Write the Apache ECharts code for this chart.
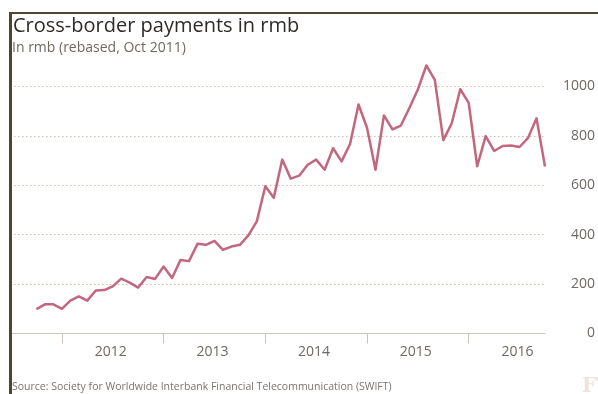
<!DOCTYPE html>
<html>
<head>
<meta charset="utf-8">
<script src="https://cdn.jsdelivr.net/npm/echarts@6/dist/echarts.min.js"></script>
<style>
  html, body { margin: 0; padding: 0; background: #fff; }
  #chart { width: 598px; height: 394px; }
</style>
</head>
<body>
<div id="chart"></div>
<script>
// Monthly cross-border rmb payments, index rebased to Oct 2011 = 100
const firstYear = 2011;
const firstMonth = 10; // October
const payments = [
  99, 118, 118, 100, 133, 150, 133, 174, 176, 191, 222, 206,
  186, 229, 221, 271, 225, 298, 293, 363, 359, 375, 339, 352,
  359, 397, 454, 596, 550, 704, 627, 639, 683, 704, 663, 750,
  697, 767, 927, 833, 663, 883, 826, 842, 913, 988, 1085, 1027,
  783, 851, 989, 934, 677, 799, 739, 759, 761, 755, 792, 871,
  676
];
const yearTicks = [2012, 2013, 2014, 2015, 2016];
const valueTicks = [0, 200, 400, 600, 800, 1000];

const titleText = 'Cross-border payments in rmb';
const subtitleText = 'In rmb (rebased, Oct 2011)';
const sourceText = 'Source: Society for Worldwide Interbank Financial Telecommunication (SWIFT)';

// Place each month on a fractional-year scale
const points = payments.map((v, i) => {
  const m = firstMonth - 1 + i;
  return [firstYear + m / 12, v];
});

const FONT = '"Open Sans", Lato, sans-serif';
const chart = echarts.init(document.getElementById('chart'), null, { renderer: 'canvas' });

chart.setOption({
  animation: false,
  backgroundColor: '#ffffff',
  grid: { left: 10, right: 51, top: 86.5, bottom: 60.5, containLabel: false },
  xAxis: {
    type: 'value',
    min: 2011.49,
    max: 2016.75,
    axisLine: { show: true, lineStyle: { color: '#c9c4be', width: 1 } },
    axisTick: {
      show: true,
      length: 10,
      lineStyle: { color: '#c9c4be' },
      customValues: yearTicks
    },
    axisLabel: {
      customValues: yearTicks.map(y => y + 0.48),
      formatter: v => String(Math.floor(v)),
      color: '#6e6862',
      fontFamily: FONT,
      fontSize: 14,
      margin: 12
    },
    splitLine: { show: false }
  },
  yAxis: {
    type: 'value',
    position: 'right',
    min: valueTicks[0],
    max: valueTicks[valueTicks.length - 1],
    interval: 200,
    axisLine: { show: false },
    axisTick: { show: false },
    axisLabel: {
      formatter: v => String(v),
      color: '#6e6862',
      fontFamily: FONT,
      fontSize: 14,
      align: 'right',
      margin: 50
    },
    splitLine: {
      show: true,
      lineStyle: { color: '#cdbfb0', type: [1.5, 2.5], width: 1 }
    }
  },
  series: [{
    type: 'line',
    data: points,
    clip: false,
    showSymbol: false,
    symbol: 'none',
    lineStyle: { color: '#c2677e', width: 2.5, join: 'round' }
  }],
  graphic: [
    // frame: top rule and left rule
    { type: 'line', shape: { x1: 9, y1: 13, x2: 598, y2: 13 },
      style: { stroke: '#4d4631', lineWidth: 2 }, z: 10 },
    { type: 'line', shape: { x1: 10.5, y1: 12, x2: 10.5, y2: 394 },
      style: { stroke: '#4d4631', lineWidth: 3 }, z: 10 },
    { type: 'text', left: 13, top: 16,
      style: { text: titleText, fill: '#2e2b28', font: '20px ' + FONT } },
    { type: 'text', left: 12, top: 41,
      style: { text: subtitleText, fill: '#6e6862', font: '14px ' + FONT } },
    { type: 'text', left: 12, top: 382,
      style: { text: sourceText, fill: '#7a746e', font: '10.5px ' + FONT } },
    { type: 'text', left: 582, top: 377,
      style: { text: 'FT', fill: '#eee2da', font: 'bold 20px "DejaVu Serif", serif' } }
  ]
});
</script>
</body>
</html>
